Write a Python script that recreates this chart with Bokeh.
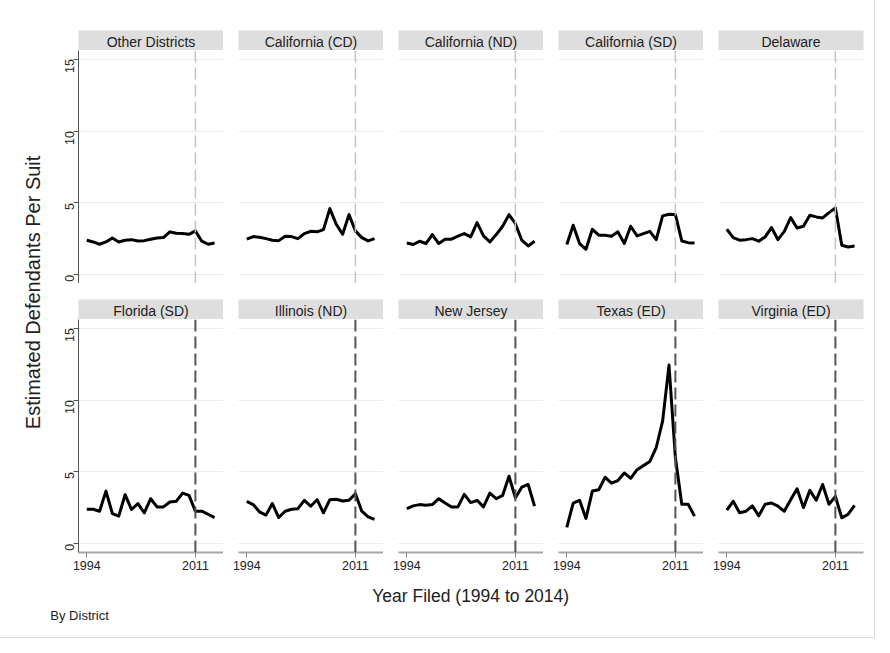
import math
from bokeh.plotting import figure
from bokeh.models import Range1d, FixedTicker, Span
from bokeh.layouts import row, column
from bokeh.embed import file_html
from bokeh.resources import INLINE
from bokeh.core.properties import value

# ---------------- data ----------------
years = list(range(1994, 2015))
districts = ["Other Districts", "California (CD)", "California (ND)", "California (SD)", "Delaware",
             "Florida (SD)", "Illinois (ND)", "New Jersey", "Texas (ED)", "Virginia (ED)"]

other_districts = [2.41, 2.29, 2.13, 2.29, 2.57, 2.29, 2.41, 2.45, 2.36, 2.38, 2.48,
                   2.57, 2.59, 2.99, 2.89, 2.87, 2.82, 3.06, 2.34, 2.13, 2.22]
california_cd = [2.48, 2.66, 2.62, 2.52, 2.41, 2.38, 2.69, 2.66, 2.52, 2.87, 3.03,
                 2.99, 3.15, 4.61, 3.52, 2.82, 4.19, 3.06, 2.59, 2.36, 2.52]
california_nd = [2.22, 2.11, 2.34, 2.18, 2.80, 2.18, 2.48, 2.48, 2.69, 2.87, 2.64,
                 3.63, 2.71, 2.29, 2.80, 3.38, 4.19, 3.56, 2.41, 2.01, 2.34]
california_sd = [2.11, 3.45, 2.18, 1.78, 3.17, 2.76, 2.76, 2.69, 2.99, 2.18, 3.38,
                 2.71, 2.87, 3.03, 2.45, 4.10, 4.21, 4.19, 2.36, 2.24, 2.22]
delaware = [3.17, 2.59, 2.41, 2.45, 2.52, 2.34, 2.64, 3.29, 2.45, 3.03, 3.98,
            3.26, 3.38, 4.14, 4.03, 3.96, 4.33, 4.65, 2.06, 1.94, 2.01]
florida_sd = [2.41, 2.41, 2.27, 3.67, 2.11, 1.93, 3.42, 2.39, 2.80, 2.16, 3.14,
              2.57, 2.57, 2.91, 2.96, 3.53, 3.37, 2.27, 2.27, 2.06, 1.83]
illinois_nd = [2.96, 2.73, 2.22, 2.00, 2.80, 1.83, 2.27, 2.41, 2.45, 3.03, 2.62,
               3.07, 2.16, 3.07, 3.10, 2.98, 3.03, 3.49, 2.27, 1.88, 1.70]
new_jersey = [2.45, 2.64, 2.73, 2.68, 2.73, 3.14, 2.84, 2.57, 2.57, 3.44, 2.87,
              3.03, 2.57, 3.53, 3.14, 3.37, 4.70, 3.21, 3.94, 4.13, 2.62]
texas_ed = [1.15, 2.84, 3.03, 1.77, 3.67, 3.76, 4.63, 4.22, 4.40, 4.93, 4.56,
            5.16, 5.44, 5.73, 6.70, 8.53, 12.43, 6.00, 2.75, 2.75, 1.93]
virginia_ed = [2.34, 2.96, 2.16, 2.27, 2.64, 1.95, 2.75, 2.84, 2.62, 2.27, 3.07,
               3.83, 2.52, 3.72, 3.03, 4.13, 2.75, 3.30, 1.81, 2.06, 2.68]

series = [other_districts, california_cd, california_nd, california_sd, delaware,
          florida_sd, illinois_nd, new_jersey, texas_ed, virginia_ed]

y_ticks = [0, 5, 10, 15]
x_ticks = [1994, 2011]
cutoff_year = 2011

y_title = "Estimated Defendants Per Suit"
x_title = "Year Filed (1994 to 2014)"
note = "By District"

# ---------------- styling ----------------
FONT = "Liberation Sans"
X_RANGE = (1992.7, 2015.4)
Y_RANGE = (-0.6, 15.6)
FW, FH = 145, 233
STRIP_H = 20


def borders(ci):
    left = 30 if ci == 0 else 15
    right = 11 if ci == 4 else 0
    return left, right


def make_strip(idx, ri, ci):
    left, right = borders(ci)
    p = figure(frame_width=FW, frame_height=STRIP_H,
               x_range=Range1d(0, 1), y_range=Range1d(0, 1),
               x_axis_location=None, y_axis_location=None,
               output_backend="svg", toolbar_location=None,
               min_border_left=left, min_border_right=right,
               min_border_top=30 if ri == 0 else 16, min_border_bottom=0,
               background_fill_color="#dedede", border_fill_color="white",
               outline_line_color=None)
    p.grid.visible = False
    p.text(x=[0.5], y=[0.45], text=[districts[idx]], text_align="center",
           text_baseline="middle", text_font=value(FONT), text_font_size="14px",
           text_color="#222222")
    return p


def make_panel(idx, ri, ci):
    left, right = borders(ci)
    p = figure(frame_width=FW, frame_height=FH,
               x_range=Range1d(*X_RANGE), y_range=Range1d(*Y_RANGE),
               x_axis_location="below" if ri == 1 else None,
               y_axis_location="left" if ci == 0 else None,
               output_backend="svg", toolbar_location=None,
               min_border_left=left, min_border_right=right,
               min_border_top=0, min_border_bottom=26 if ri == 1 else 0,
               background_fill_color="white", border_fill_color="white",
               outline_line_color=None)
    p.xgrid.visible = False
    p.ygrid[0].ticker = FixedTicker(ticks=y_ticks)
    p.ygrid.grid_line_color = "#ebebeb"
    p.ygrid.grid_line_width = 1

    if ci == 0:
        ax = p.yaxis[0]
        ax.ticker = FixedTicker(ticks=y_ticks)
        ax.axis_line_color = "#555555"
        ax.axis_line_width = 1
        ax.major_tick_line_color = "#555555"
        ax.major_tick_in = 0
        ax.major_tick_out = 5
        ax.minor_tick_line_color = None
        ax.major_label_orientation = math.pi / 2
        ax.major_label_text_font = FONT
        ax.major_label_text_font_size = "12.5px"
        ax.major_label_text_color = "#222222"
        ax.major_label_standoff = 4
    if ri == 1:
        ax = p.xaxis[0]
        ax.ticker = FixedTicker(ticks=x_ticks)
        ax.axis_line_color = "#a8a8a8"
        ax.axis_line_width = 2
        ax.major_tick_line_color = "#888888"
        ax.major_tick_in = 0
        ax.major_tick_out = 5
        ax.minor_tick_line_color = None
        ax.major_label_text_font = FONT
        ax.major_label_text_font_size = "12.5px"
        ax.major_label_text_color = "#222222"
        ax.major_label_standoff = 3

    if ri == 0:
        span = Span(location=cutoff_year, dimension="height", line_color="#c4c4c4",
                    line_width=1.5, line_dash="12 5")
    else:
        span = Span(location=cutoff_year, dimension="height", line_color="#555555",
                    line_width=2, line_dash="12 5")
    p.add_layout(span)

    p.line(years, series[idx], line_color="black", line_width=3, line_join="round")
    return p


rows = []
for ri in range(2):
    strips = [make_strip(ri * 5 + ci, ri, ci) for ci in range(5)]
    panels = [make_panel(ri * 5 + ci, ri, ci) for ci in range(5)]
    rows.append(row(*strips))
    rows.append(row(*panels))
grid = column(*rows)

GRID_H = (30 + STRIP_H) + FH + (16 + STRIP_H) + FH + 26

ylab = figure(width=48, height=GRID_H, x_range=Range1d(0, 1), y_range=Range1d(0, 1),
              x_axis_location=None, y_axis_location=None,
              output_backend="svg", toolbar_location=None, min_border=0,
              outline_line_color=None, border_fill_color="white")
ylab.grid.visible = False
ylab.text(x=[0.667], y=[0.495], text=[y_title], angle=math.pi / 2, text_align="center",
          text_baseline="middle", text_font=value(FONT), text_font_size="20px",
          text_color="#222222")

TOTAL_W = 48 + 175 + 160 * 4 + 11
bottom = figure(width=TOTAL_W, height=59, x_range=Range1d(0, 1), y_range=Range1d(0, 1),
                x_axis_location=None, y_axis_location=None,
                output_backend="svg", toolbar_location=None, min_border=0,
                outline_line_color=None, border_fill_color="white")
bottom.grid.visible = False
bottom.text(x=[0.538], y=[0.71], text=[x_title], text_align="center", text_baseline="middle",
            text_font=value(FONT), text_font_size="17.5px", text_color="#222222")
bottom.text(x=[0.057], y=[0.37], text=[note], text_align="left", text_baseline="middle",
            text_font=value(FONT), text_font_size="13px", text_color="#222222")

page = column(row(ylab, grid), bottom, styles={"outline": "1px solid #dcdcdc"})

open("out.html", "w").write(file_html(page, INLINE))
